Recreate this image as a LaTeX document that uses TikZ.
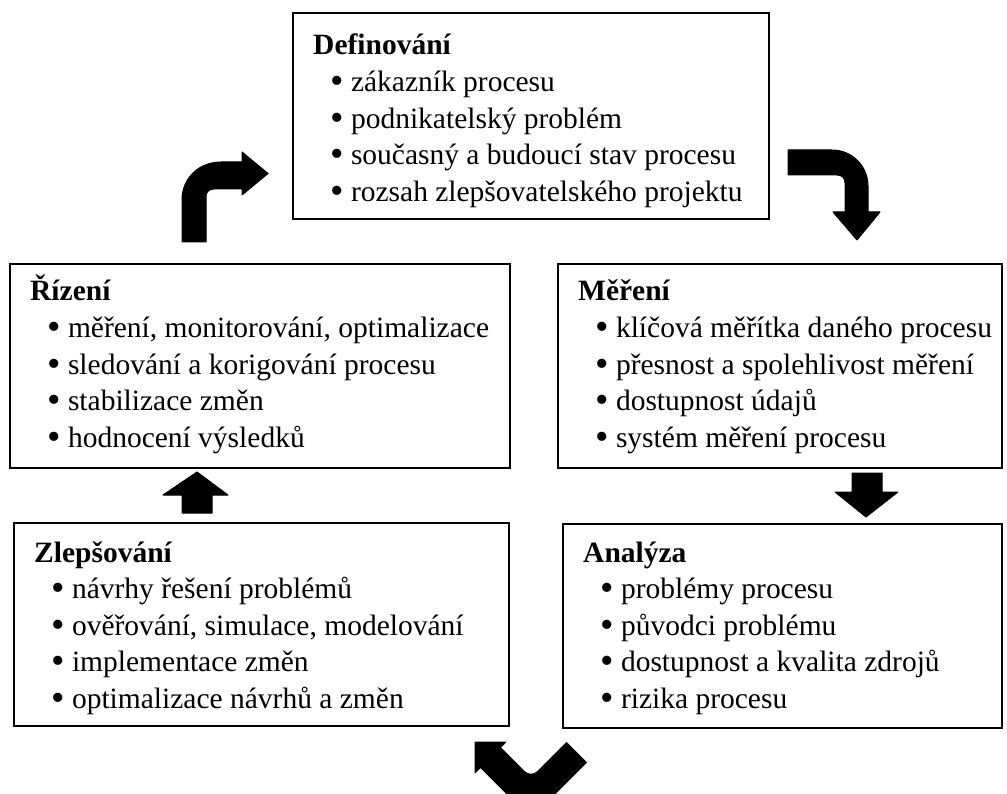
\documentclass[tikz,border=0pt]{standalone}
\usepackage{fontspec}
\setmainfont{Liberation Serif}
\usetikzlibrary{calc}

\tikzset{
  stagebox/.style={draw, line width=2.3pt, inner sep=0pt, anchor=north west},
  heading/.style={anchor=base west, inner sep=0pt, font=\fontsize{29.5pt}{36pt}\selectfont\bfseries},
  entry/.style={anchor=base west, inner sep=0pt, font=\fontsize{29.5pt}{36pt}\selectfont},
  blockarrow/.style={fill=black, draw=black, line width=1pt, line join=round},
}

% a slightly heavier list bullet
\newcommand\stagebullet{\raisebox{-0.07em}{\scalebox{1.3}{\textbullet}}}

% one stage of the cycle: name, left, top, width, height, title baseline offset, title, items
\newcommand\stage[8]{%
  \node[stagebox, minimum width=#4pt, minimum height=#5pt] (#1) at (#2,#3) {};
  \node[heading] (#1-title) at ($(#1.north west)+(21,#6)$) {#7};
  \foreach \itm [count=\i] in {#8} {
    \node[entry] (#1-\i) at ($(#1-title.base west)+(17,36.6*\i)$) {\stagebullet\ \itm};
  }
}

\begin{document}
\begin{tikzpicture}[x=1pt, y=-1pt]
  \path[use as bounding box] (0,0) rectangle (1007,794);
  \clip (0,0) rectangle (1007,794);

  \stage{def}{292}{12}{476}{206}{43}{Definování}
    {zákazník procesu, podnikatelský problém,
     současný a budoucí stav procesu, rozsah zlepšovatelského projektu}
  \stage{riz}{9}{263}{500}{204}{38}{Řízení}
    {{měření, monitorování, optimalizace}, sledování a korigování procesu,
     stabilizace změn, hodnocení výsledků}
  \stage{mer}{557}{263}{444}{204}{38}{Měření}
    {klíčová měřítka daného procesu, přesnost a spolehlivost měření,
     dostupnost údajů, systém měření procesu}
  \stage{zle}{13}{522}{495}{203}{40}{Zlepšování}
    {návrhy řešení problémů, {ověřování, simulace, modelování},
     implementace změn, optimalizace návrhů a změn}
  \stage{ana}{562}{523}{439}{204}{39}{Analýza}
    {problémy procesu, původci problému,
     dostupnost a kvalita zdrojů, rizika procesu}

  % bent arrow from Řízení up and over to Definování
  \fill[blockarrow] (182,242) -- (182,200)
    .. controls (182,178) and (199,162) .. (221,162)
    -- (242,162) -- (242,152) -- (268,173.5) -- (242,195) -- (242,189)
    -- (214,189) .. controls (209,189) and (206,192) .. (206,197)
    -- (206,242) -- cycle;

  % bent arrow from Definování round and down to Měření
  \fill[blockarrow] (788,150) -- (832,150)
    .. controls (852,150) and (868,166) .. (868,186)
    -- (868,212) -- (880,212) -- (857,240) -- (833,212) -- (845,212)
    -- (845,183) .. controls (845,178) and (842,175) .. (837,175)
    -- (788,175) -- cycle;

  % straight arrow from Měření down to Analýza
  \fill[blockarrow] (852,473) -- (882,473) -- (882,492) -- (898,492)
    -- (866,517) -- (835,492) -- (852,492) -- cycle;

  % straight arrow from Zlepšování up to Řízení
  \fill[blockarrow] (182,513) -- (182,495) -- (163,495) -- (197,472)
    -- (228,495) -- (212,495) -- (212,513) -- cycle;

  % V-shaped arrow from Analýza back to Zlepšování
  \fill[blockarrow] (475,742) -- (506,742) -- (500.4,747.6)
    -- (525,772) .. controls (528,775) and (534,775) .. (537,772)
    -- (566.6,742.6) -- (586.4,762.4) -- (531,817.8)
    -- (480.6,767.4) -- (475,773) -- cycle;
\end{tikzpicture}
\end{document}
